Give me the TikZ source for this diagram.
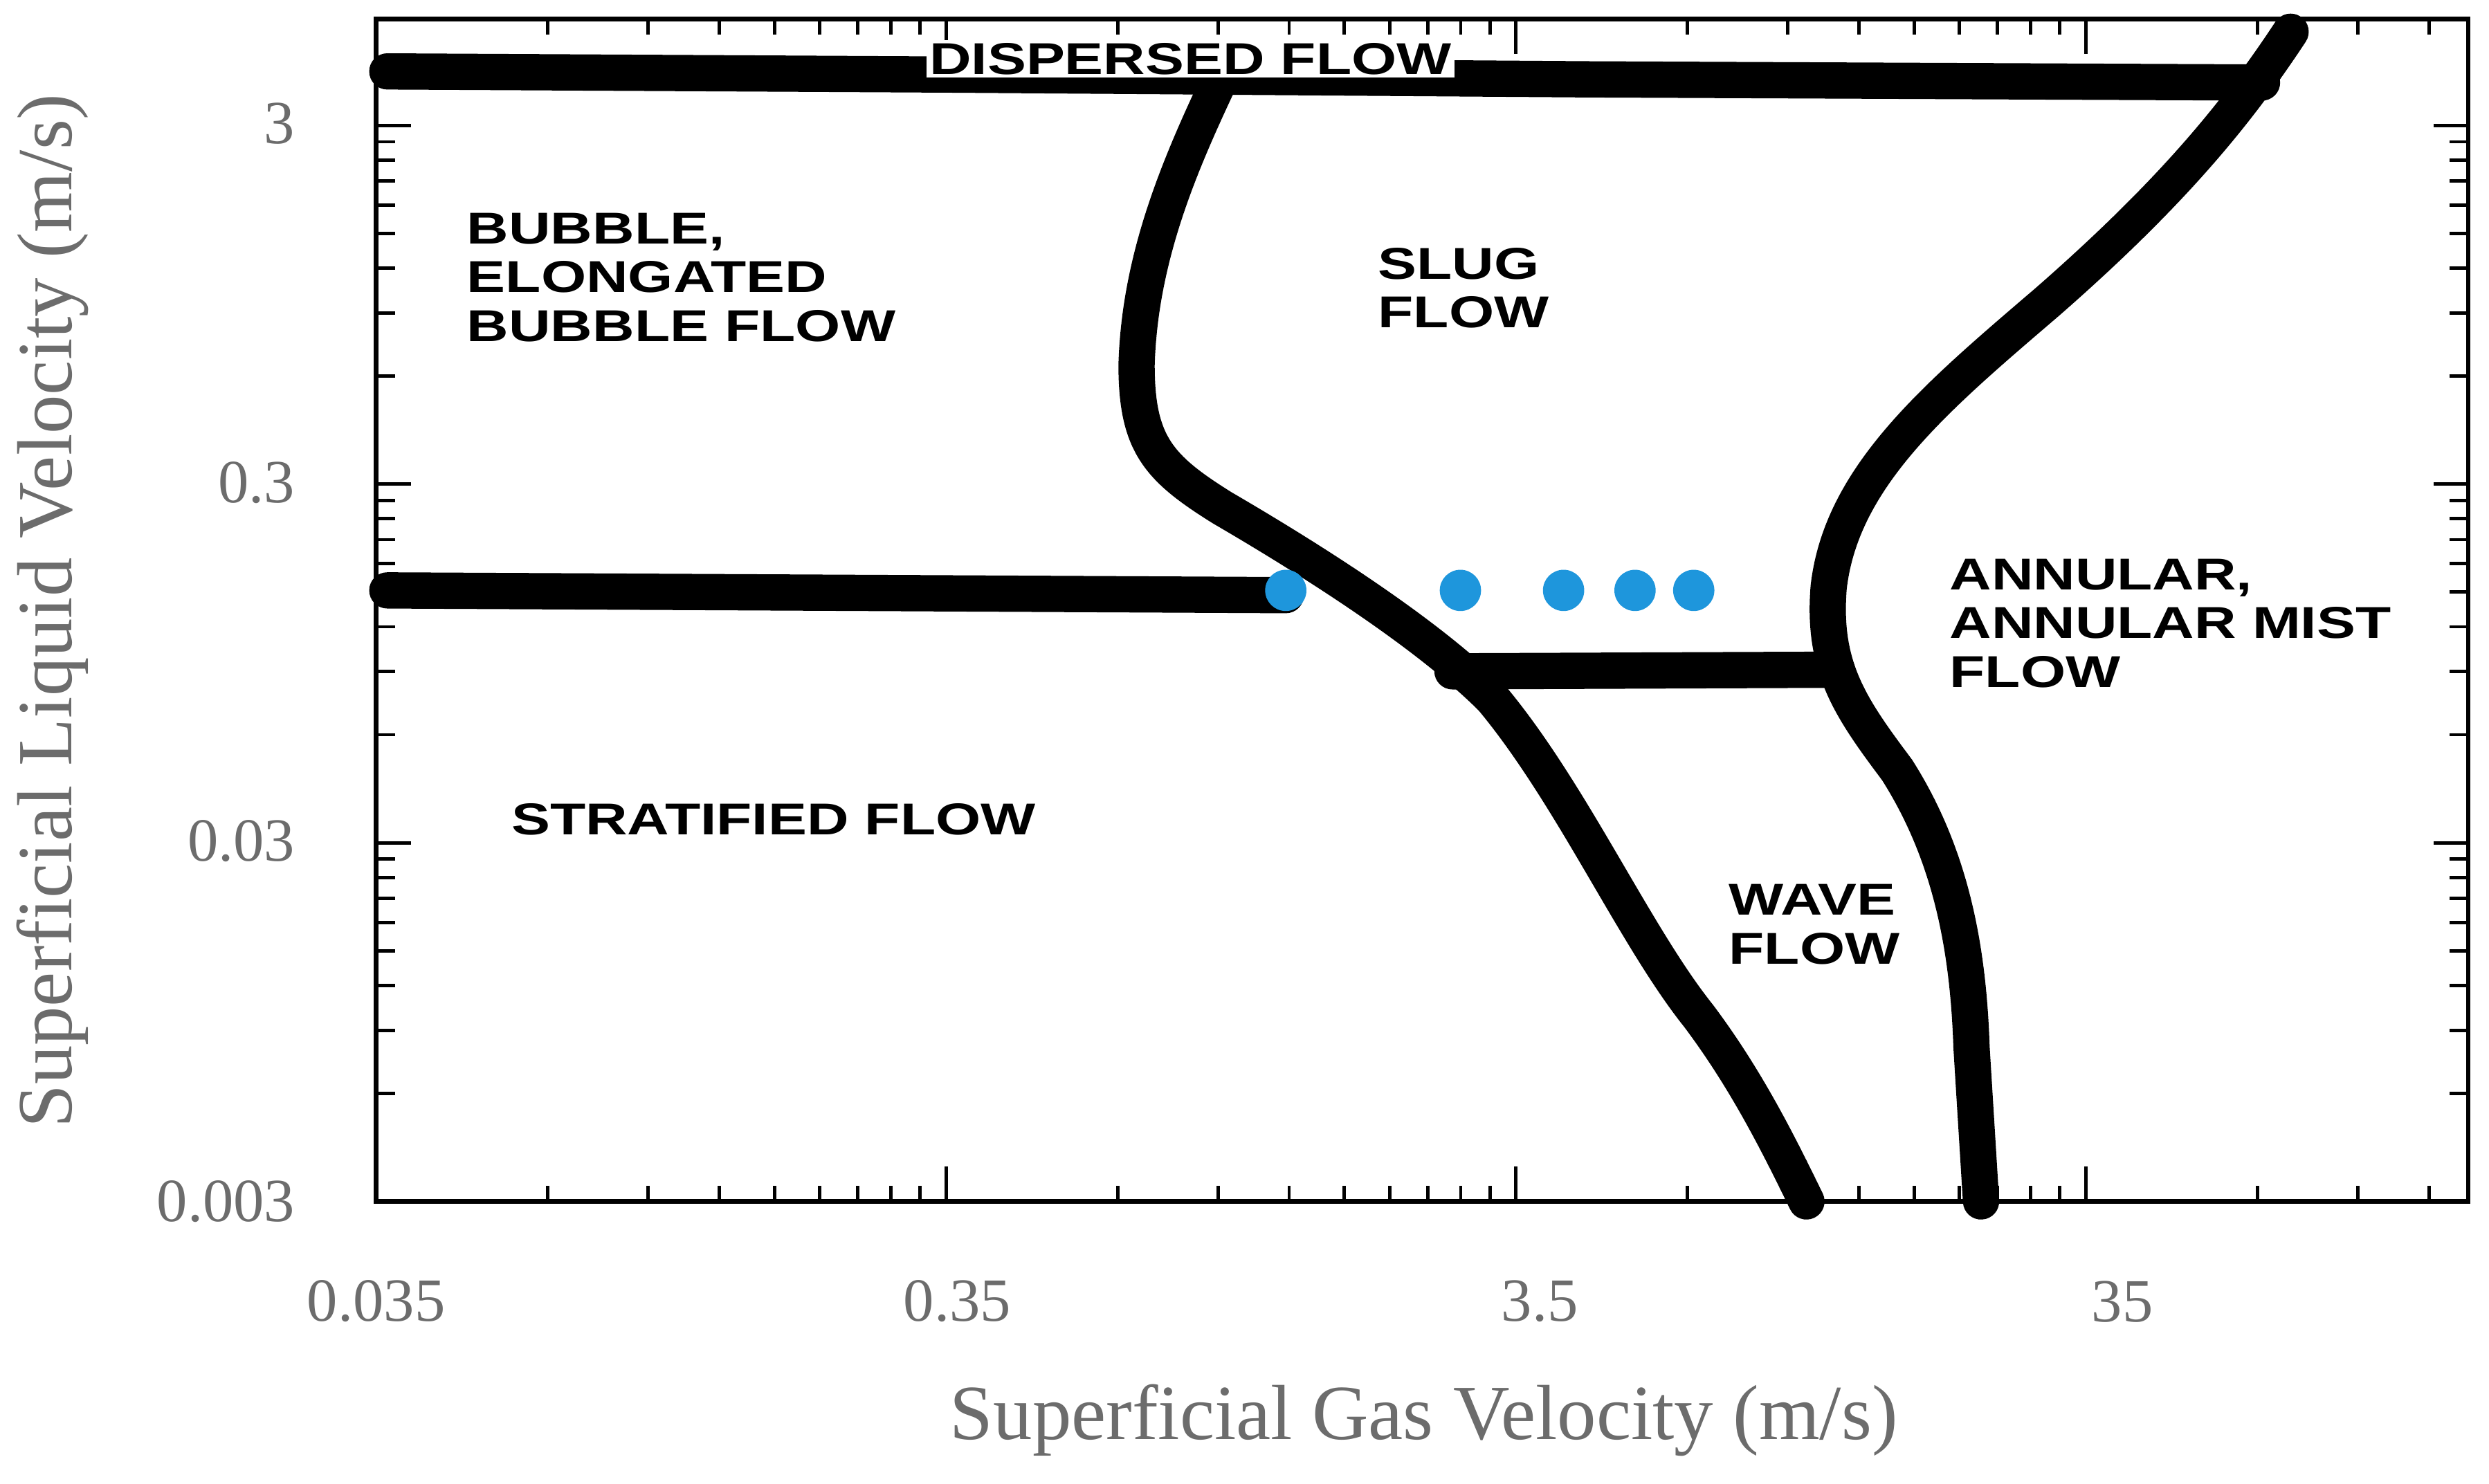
\documentclass[tikz,border=0pt]{standalone}
\usepackage{fontspec}
\setmainfont{Liberation Serif}
\newfontfamily\lab[FakeStretch=1.3]{Liberation Sans}
\begin{document}
\begin{tikzpicture}[x=0.02cm,y=-0.02cm,
  bnd/.style={line width=13pt,line cap=round,line join=round},
  reg/.style={font=\lab\bfseries\fontsize{16}{17.5}\selectfont,align=left,anchor=north west},
  tick/.style={font=\fontsize{22}{24}\selectfont,text=gray!85!black},
  dot/.style={circle,fill={rgb,255:red,30;green,150;blue,220},minimum size=26*0.02cm,inner sep=0pt}]
\useasboundingbox (0,0) rectangle (1568,935);
% frame
\draw[line width=1.6pt] (237,12) rectangle (1555,757);
% ticks
\foreach \d in {0,1,2,3}{
  \foreach \k in {2,...,9}{
    \pgfmathsetmacro{\xx}{237+359*\d+359*log10(\k)}
    \ifdim\xx pt<1555pt
    \draw[line width=1.2pt] (\xx,757) -- (\xx,747);
    \draw[line width=1.2pt] (\xx,12) -- (\xx,22);
    \fi}
  \pgfmathsetmacro{\xx}{237+359*\d}
  \draw[line width=1.2pt] (\xx,757) -- (\xx,735);
  \draw[line width=1.2pt] (\xx,12) -- (\xx,34);
}
\foreach \d in {0,1,2,3}{
  \foreach \k in {2,...,9}{
    \pgfmathsetmacro{\yy}{757-226*\d-226*log10(\k)}
    \ifdim\yy pt>12pt
    \draw[line width=1.2pt] (237,\yy) -- (249,\yy);
    \draw[line width=1.2pt] (1555,\yy) -- (1543,\yy);
    \fi}
  \pgfmathsetmacro{\yy}{757-226*\d}
  \draw[line width=1.2pt] (237,\yy) -- (259,\yy);
  \draw[line width=1.2pt] (1555,\yy) -- (1533,\yy);
}
% tick labels
\node[tick] (x1) at (237,820) {0.035};
\node[tick] (x2) at (603,820) {0.35};
\node[tick] (x3) at (970,820) {3.5};
\node[tick] (x4) at (1337,820) {35};
\node[tick,anchor=east] (y1) at (192,78) {3};
\node[tick,anchor=east] (y2) at (192,304) {0.3};
\node[tick,anchor=east] (y3) at (192,530) {0.03};
\node[tick,anchor=east] (y4) at (192,757) {0.003};
\node[font=\fontsize{28}{30}\selectfont,text=gray!85!black] (xt) at (897,895) {Superficial Gas Velocity (m/s)};
\node[font=\fontsize{28}{30}\selectfont,text=gray!85!black,rotate=90] (yt) at (33,385) {Superficial Liquid Velocity (m/s)};
% boundaries
\draw[bnd] (244,45) -- (600,47) -- (1000,50) -- (1425,52);
\draw[bnd] (770,47) .. controls (745,100) and (718,160) .. (716,230) .. controls (716,280) and (730,295) .. (770,320)
  .. controls (830,355) and (900,400) .. (940,440) .. controls (990,500) and (1030,590) .. (1070,640)
  .. controls (1100,680) and (1120,720) .. (1138,757);
\draw[bnd] (244,372) -- (810,375);
\draw[bnd] (915,423) -- (1150,422);
\draw[bnd] (1443,20) .. controls (1410,70) and (1370,120) .. (1290,190)
  .. controls (1220,250) and (1160,300) .. (1152,370) .. controls (1148,420) and (1165,445) .. (1195,485)
  .. controls (1230,540) and (1240,600) .. (1242,660) -- (1248,757);
% labels
\node[font=\lab\bfseries\fontsize{16}{17.5}\selectfont,fill=white,inner sep=1pt] (disp) at (750,37) {DISPERSED FLOW};
\node[reg] (bub) at (288,128) {BUBBLE,\\ELONGATED\\BUBBLE FLOW};
\node[reg] (slug) at (862,150) {SLUG\\FLOW};
\node[reg] (ann) at (1222,346) {ANNULAR,\\ANNULAR MIST\\FLOW};
\node[reg] (strat) at (316,500) {STRATIFIED FLOW};
\node[reg] (wave) at (1083,551) {WAVE\\FLOW};
% dots
\node[dot] (d1) at (810,372) {};
\node[dot] (d2) at (920,372) {};
\node[dot] (d3) at (985,372) {};
\node[dot] (d4) at (1030,372) {};
\node[dot] (d5) at (1067,372) {};
\end{tikzpicture}
\end{document}
